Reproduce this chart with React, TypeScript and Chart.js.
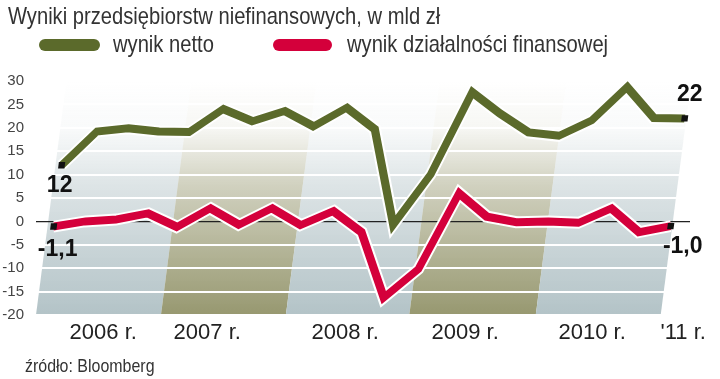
import { useEffect, useRef } from "react";
import { Chart, registerables } from "chart.js";

Chart.register(...registerables);

// ---- data ----
const quarters = [
  "I kw. 2006", "II kw. 2006", "III kw. 2006", "IV kw. 2006",
  "I kw. 2007", "II kw. 2007", "III kw. 2007", "IV kw. 2007",
  "I kw. 2008", "II kw. 2008", "III kw. 2008", "IV kw. 2008",
  "I kw. 2009", "II kw. 2009", "III kw. 2009", "IV kw. 2009",
  "I kw. 2010", "II kw. 2010", "III kw. 2010", "IV kw. 2010",
  "I kw. 2011",
];
const netResult = [12, 19.2, 19.9, 19.2, 19.1, 24.0, 21.4, 23.6, 20.3, 24.3, 19.7, -0.7, 10.0, 27.6, 23.0, 19.0, 18.3, 21.6, 28.7, 22.1, 22.0];
const financialResult = [-1.1, 0.0, 0.4, 1.7, -1.2, 2.8, -0.7, 2.8, -0.8, 2.2, -2.3, -16.3, -10.2, 6.0, 1.0, -0.2, 0.0, -0.3, 2.8, -2.3, -1.0];
const yearLabels = ["2006 r.", "2007 r.", "2008 r.", "2009 r.", "2010 r.", "'11 r."];
const yearLabelAt = [1.98, 5.35, 9.82, 13.71, 17.83, 20.78];
const yearBandEdges = [-0.2, 3.85, 7.9, 11.9, 16.0, 20.05];
const seriesNames = ["wynik netto", "wynik działalności finansowej"];
const title = "Wyniki przedsiębiorstw niefinansowych, w mld zł";
const source = "źródło: Bloomberg";

const GREEN = "#5b6a2b";
const RED = "#d4003b";
const BAND_GRAY = [179, 195, 199];
const BAND_OLIVE = [151, 152, 112];
const SKEW = 0.13;
const REG = '"Liberation Sans", Arial, sans-serif';

const fmt = (v: number, dec: number) => v.toFixed(dec).replace(".", ",");

const decorPlugin = {
  id: "decor",
  beforeDraw(chart: any) {
    const { ctx, chartArea, scales } = chart;
    const x = scales.x;
    const b = chartArea.bottom;
    const t = chartArea.top;
    const shift = SKEW * (b - t);
    ctx.save();
    for (let i = 0; i < yearBandEdges.length - 1; i++) {
      const c = i % 2 === 0 ? BAND_GRAY : BAND_OLIVE;
      const x0 = x.getPixelForValue(yearBandEdges[i]);
      const x1 = x.getPixelForValue(yearBandEdges[i + 1]);
      const g = ctx.createLinearGradient(0, t, 0, b);
      g.addColorStop(0, `rgba(${c[0]},${c[1]},${c[2]},0)`);
      g.addColorStop(0.2, `rgba(${c[0]},${c[1]},${c[2]},0.08)`);
      g.addColorStop(0.45, `rgba(${c[0]},${c[1]},${c[2]},0.45)`);
      g.addColorStop(1, `rgba(${c[0]},${c[1]},${c[2]},1)`);
      ctx.fillStyle = g;
      ctx.beginPath();
      ctx.moveTo(x0, b);
      ctx.lineTo(x1, b);
      ctx.lineTo(x1 + shift, t);
      ctx.lineTo(x0 + shift, t);
      ctx.closePath();
      ctx.fill();
    }
    ctx.restore();
  },
  beforeDatasetsDraw(chart: any) {
    const { ctx, chartArea } = chart;
    ctx.save();
    ctx.transform(1, 0, -SKEW, 1, SKEW * chartArea.bottom, 0);
  },
  afterDatasetsDraw(chart: any) {
    const { ctx, chartArea } = chart;
    ctx.restore();
    const b = chartArea.bottom;
    const pos = (dsIndex: number, i: number) => {
      const el = chart.getDatasetMeta(dsIndex).data[i];
      return { x: el.x + SKEW * (b - el.y), y: el.y };
    };
    const last = quarters.length - 1;
    ctx.save();
    ctx.fillStyle = "#111";
    ctx.font = `bold 23px ${REG}`;
    ctx.textAlign = "center";
    ctx.textBaseline = "middle";
    let p = pos(1, 0);
    ctx.fillText(fmt(netResult[0], 0), p.x - 2, p.y + 20);
    p = pos(1, last);
    ctx.fillText(fmt(netResult[last], 0), p.x + 5, p.y - 24);
    p = pos(3, 0);
    ctx.fillText(fmt(financialResult[0], 1), p.x + 4, p.y + 23);
    p = pos(3, last);
    ctx.fillText(fmt(financialResult[last], 1), p.x + 12, p.y + 21);
    ctx.restore();
  },
};

const toPoints = (arr: number[]) => arr.map((v, i) => ({ x: i, y: v }));
const endRadius = (c: any) =>
  c.dataIndex === 0 || c.dataIndex === quarters.length - 1 ? 4.5 : 0;

const textStyle = (left: number, top: number, size: number) => ({
  position: "absolute" as const,
  left,
  top,
  fontFamily: REG,
  fontSize: size,
  lineHeight: 1,
  color: "#333",
  whiteSpace: "nowrap" as const,
  transform: "scaleX(0.84)",
  transformOrigin: "0 0",
});

export default function App() {
  const ref = useRef<HTMLCanvasElement | null>(null);

  useEffect(() => {
    if (!ref.current) return;
    const outline = {
      borderColor: "#ffffff",
      borderWidth: 12,
      pointRadius: 0,
      borderJoinStyle: "miter" as const,
      tension: 0,
      clip: false as const,
    };
    const line = {
      borderWidth: 8,
      pointRadius: endRadius,
      pointHoverRadius: 0,
      pointStyle: "rect" as const,
      pointBackgroundColor: "#111",
      pointBorderWidth: 0,
      borderJoinStyle: "miter" as const,
      tension: 0,
      clip: false as const,
    };
    const chart = new Chart(ref.current, {
      type: "line",
      data: {
        datasets: [
          { ...outline, label: "", data: toPoints(netResult), order: 4 },
          { ...line, label: seriesNames[0], data: toPoints(netResult), borderColor: GREEN, backgroundColor: GREEN, order: 3 },
          { ...outline, label: "", data: toPoints(financialResult), order: 2 },
          { ...line, label: seriesNames[1], data: toPoints(financialResult), borderColor: RED, backgroundColor: RED, order: 1 },
        ],
      },
      options: {
        responsive: false,
        animation: false,
        devicePixelRatio: 1,
        events: [],
        layout: { padding: { top: 81, right: 30, left: 0, bottom: 0 } },
        plugins: { legend: { display: false }, tooltip: { enabled: false } },
        scales: {
          x: {
            type: "linear",
            min: -0.2,
            max: 21,
            afterFit: (s: any) => { s.height = 64; },
            afterBuildTicks: (s: any) => { s.ticks = yearLabelAt.map((v) => ({ value: v })); },
            ticks: {
              autoSkip: false,
              maxRotation: 0,
              padding: -3,
              color: "#222",
              font: { family: REG, size: 22 },
              callback: (_v: any, i: number) => yearLabels[i],
            },
            grid: { display: false },
            border: { display: false },
          },
          y: {
            min: -20,
            max: 30,
            afterFit: (s: any) => { s.width = 36; },
            ticks: { stepSize: 5, padding: 12, color: "#444", font: { family: REG, size: 15 } },
            grid: {
              drawTicks: false,
              color: (c: any) => (c.tick && c.tick.value === 0 ? "#222" : "#ffffff"),
              lineWidth: (c: any) => (c.tick && c.tick.value === 0 ? 1.3 : 2),
            },
            border: { display: false },
          },
        },
      },
      plugins: [decorPlugin],
    });
    return () => chart.destroy();
  }, []);

  return (
    <div style={{ position: "fixed", left: 0, top: 0, width: 720, height: 379, background: "#fff", overflow: "hidden" }}>
      <canvas ref={ref} width={720} height={379} style={{ position: "absolute", left: 0, top: 0 }} />
      <div style={textStyle(8, 4, 24)}>{title}</div>
      <div style={{ position: "absolute", left: 39, top: 39, width: 61, height: 12, borderRadius: 6, background: GREEN }} />
      <div style={textStyle(113, 32, 24)}>{seriesNames[0]}</div>
      <div style={{ position: "absolute", left: 273, top: 39, width: 59, height: 12, borderRadius: 6, background: RED }} />
      <div style={textStyle(347, 32, 24)}>{seriesNames[1]}</div>
      <div style={textStyle(25, 356, 19)}>{source}</div>
    </div>
  );
}
